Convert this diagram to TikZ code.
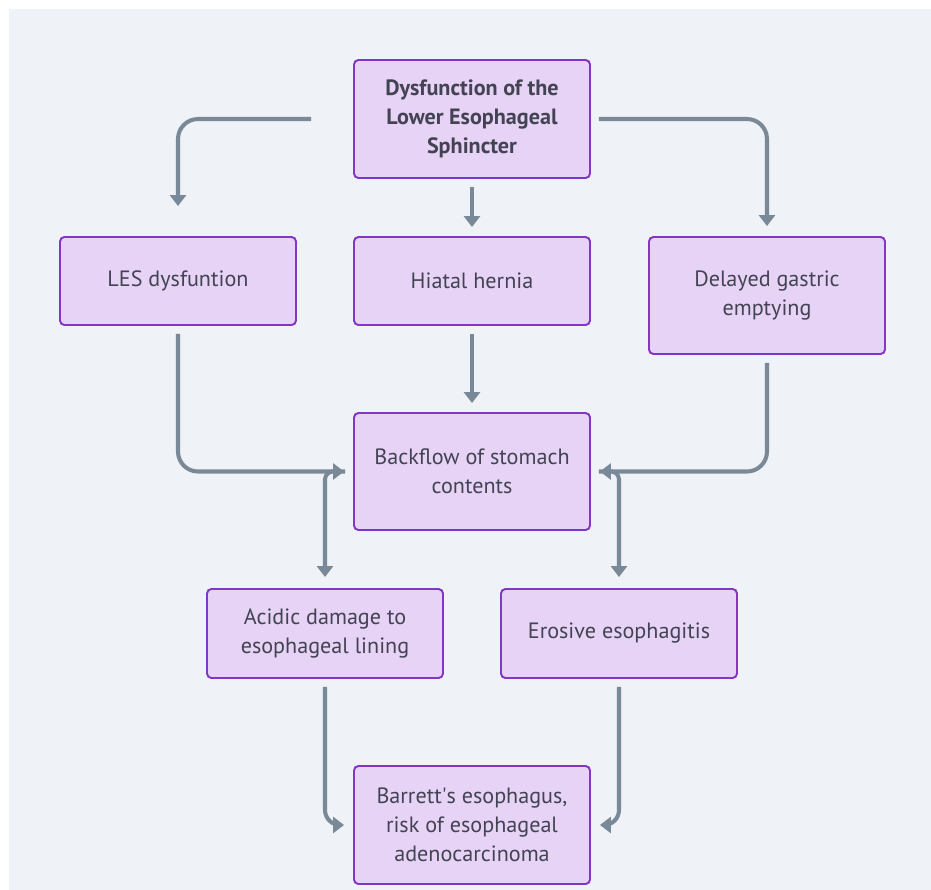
\documentclass[tikz,border=0pt]{standalone}
\usepackage{fontspec}
\setmainfont{PT Sans}
\usepackage{tikz}
\usetikzlibrary{arrows.meta}

\definecolor{boxfill}{HTML}{E6D3F6}
\definecolor{boxline}{HTML}{8236C6}
\definecolor{boxtext}{HTML}{434353}
\definecolor{linkgray}{HTML}{7A8997}
\definecolor{pagebg}{HTML}{EFF2F6}

\begin{document}
\begin{tikzpicture}[
                x=0.02cm, y=-0.02cm, % one unit is one pixel of the sketch
                every node/.style={rectangle, rounded corners=2.5pt, draw=boxline, line width=1.1pt, fill=boxfill, text=boxtext, font=\fontsize{12.6}{16.5}\selectfont, align=center, minimum width=4.72cm, inner sep=0pt}, % Boxes
                link/.style={draw=linkgray, line width=2.3pt, rounded corners=0.4cm, -{Triangle[width=0.32cm,length=0.22cm]}, shorten <=0.16cm, shorten >=0.18cm} % Connectors
                ]
                \fill[white] (0,0) rectangle (931,890);
                \fill[pagebg] (9,9) rectangle (931,890);

                \node[minimum height=2.36cm, font=\fontsize{12.6}{16.5}\selectfont\bfseries] (top) at (472,119) {Dysfunction of the\\Lower Esophageal\\Sphincter};
                \node[minimum height=1.76cm] (les) at (178,281) {LES dysfuntion};
                \node[minimum height=1.76cm] (hiatal) at (472,281) {Hiatal hernia};
                \node[minimum height=2.34cm] (delayed) at (767,295.5) {Delayed gastric\\emptying};
                \node[minimum height=2.34cm] (backflow) at (472,471.5) {Backflow of stomach\\contents};
                \node[minimum height=1.78cm] (acidic) at (325,633.5) {Acidic damage to\\esophageal lining};
                \node[minimum height=1.78cm] (erosive) at (619,633.5) {Erosive esophagitis};
                \node[minimum height=2.36cm] (barrett) at (472,825) {Barrett\textquotesingle s esophagus,\\risk of esophageal\\adenocarcinoma};

                \draw[link, shorten <=0.84cm, shorten >=0.6cm] (top.west) -| (les.north);
                \draw[link] (top.south) -- (hiatal.north);
                \draw[link, shorten >=0.2cm] (top.east) -| (delayed.north);
                \draw[link] (les.south) |- (backflow.west);
                \draw[link] (hiatal.south) -- (backflow.north);
                \draw[link] (delayed.south) |- (backflow.east);
                \draw[link, rounded corners=0.16cm, shorten >=0.22cm] (backflow.west) -| (acidic.north);
                \draw[link, rounded corners=0.16cm, shorten >=0.22cm] (backflow.east) -| (erosive.north);
                \draw[link, rounded corners=0.3cm] (acidic.south) |- (barrett.west);
                \draw[link, rounded corners=0.3cm] (erosive.south) |- (barrett.east);
            \end{tikzpicture}
\end{document}
